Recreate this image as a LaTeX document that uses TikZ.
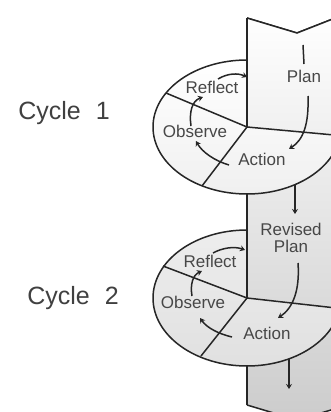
\documentclass[tikz,border=0pt]{standalone}
\usepackage{fontspec}
\setmainfont{Liberation Sans}
\usetikzlibrary{arrows.meta}
\begin{document}
\begin{tikzpicture}[x=1pt,y=-1pt,
  line/.style={draw=black!85,line width=1.5pt},
  arr/.style={line,-{Stealth[length=5pt,width=6pt]}},
  lbl/.style={text=black!72,font=\fontsize{17}{19}\selectfont,inner sep=0pt},
  cyc/.style={text=black!75,font=\fontsize{25}{28}\selectfont,inner sep=0pt},
  colshade/.style={top color=white,bottom color=gray!40}]
\useasboundingbox[fill=white] (0,0) rectangle (331,412);
% column
\def\colpath{(247,18) -- (297,33) -- (348,13) -- (348,405) -- (297,420) -- (247,405) -- cycle}
\shade[colshade] \colpath;
\draw[line] (247,405) -- (297,420) -- (348,405);
\draw[line] (247,18) -- (297,33) -- (348,13);
% upper ellipse
\coordinate (c1) at (247,127);
\shade[top color=white,bottom color=gray!12,draw=black!85,line width=1.5pt] (c1) ellipse [x radius=94pt,y radius=67pt];
\begin{scope}
  \clip (247,0) -- (247,127) -- (350,136) -- (350,0) -- cycle;
  \shade[colshade] \colpath;
\end{scope}
\draw[line] (247,18) -- (297,33) -- (348,13);
\coordinate (u1) at (166,93);
\coordinate (u2) at (202,186);
\coordinate (u3) at (345,136);
\draw[line] (c1) -- (u1);
\draw[line] (c1) -- (u2);
\draw[line] (c1) -- (u3);
\draw[line] (c1) -- (247,18);
% column left edge between ellipses
\draw[line] (247,194) -- (247,298);
% lower ellipse
\coordinate (c2) at (247,298);
\shade[top color=gray!14,bottom color=gray!24,draw=black!85,line width=1.5pt] (c2) ellipse [x radius=94pt,y radius=68pt];
\begin{scope}
  \clip (247,200) -- (247,298) -- (350,309) -- (350,200) -- cycle;
  \shade[colshade] \colpath;
\end{scope}
\coordinate (l1) at (163,266);
\coordinate (l2) at (201,356);
\coordinate (l3) at (345,309);
\draw[line] (c2) -- (l1);
\draw[line] (c2) -- (l2);
\draw[line] (c2) -- (l3);
\draw[line] (c2) -- (247,200);
\draw[line] (247,366) -- (247,405);
% labels
\node[cyc] (cy1) at (64,113) {Cycle\hspace{0.6em}1};
\node[cyc] (cy2) at (73,298) {Cycle\hspace{0.6em}2};
\node[lbl] (plan1) at (304,76) {Plan};
\node[lbl] (refl1) at (212,87) {Reflect};
\node[lbl] (obs1) at (195,131) {Observe};
\node[lbl] (act1) at (262,159) {Action};
\node[lbl,align=center,font=\fontsize{17}{17}\selectfont] (plan2) at (291,238) {Revised\\Plan};
\node[lbl] (refl2) at (210,261) {Reflect};
\node[lbl] (obs2) at (193,302) {Observe};
\node[lbl] (act2) at (267,333) {Action};
% arrows upper
\coordinate (a1) at (303,45); \coordinate (a2) at (304,64);
\draw[line] (a1) -- (a2);
\coordinate (a3) at (308,96); \coordinate (a4) at (289,149);
\draw[arr] (a3) .. controls (309,125) and (303,140) .. (a4);
\coordinate (a5) at (229,165); \coordinate (a6) at (196,141);
\draw[arr] (a5) .. controls (215,161) and (202,152) .. (a6);
\coordinate (a7) at (191,126); \coordinate (a8) at (203,97);
\draw[arr] (a7) .. controls (189,112) and (192,101) .. (a8);
\coordinate (a9) at (218,79); \coordinate (a10) at (247,77);
\draw[arr] (a9) .. controls (228,73) and (238,73) .. (a10);
% connecting arrow
\coordinate (b1) at (295,185); \coordinate (b2) at (295,214);
\draw[arr] (b1) -- (b2);
% arrows lower
\coordinate (b3) at (298,263); \coordinate (b4) at (278,318);
\draw[arr] (b3) .. controls (300,290) and (293,308) .. (b4);
\coordinate (b5) at (232,337); \coordinate (b6) at (200,318);
\draw[arr] (b5) .. controls (219,334) and (207,328) .. (b6);
\coordinate (b7) at (192,296); \coordinate (b8) at (202,271);
\draw[arr] (b7) .. controls (190,284) and (193,275) .. (b8);
\coordinate (b9) at (213,253); \coordinate (b10) at (245,250);
\draw[arr] (b9) .. controls (222,248) and (234,246) .. (b10);
\coordinate (b11) at (289,359); \coordinate (b12) at (289,389);
\draw[arr] (b11) -- (b12);
\end{tikzpicture}
\end{document}
